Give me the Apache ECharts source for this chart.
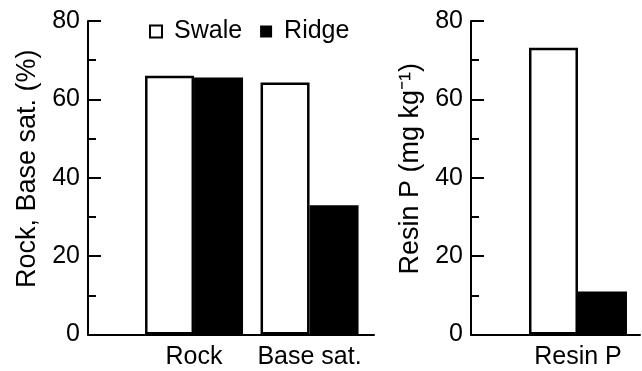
<!DOCTYPE html>
<html><head><meta charset="utf-8">
<script src="https://cdn.jsdelivr.net/npm/echarts@6/dist/echarts.min.js"></script>
<style>html,body{margin:0;padding:0;background:#fff}#c{width:642px;height:371px}</style>
</head><body><div id="c"></div>
<script>
// ---- data ----
const leftCategories = ['Rock', 'Base sat.'];
const rightCategories = ['Resin P'];
const seriesNames = ['Swale', 'Ridge'];
const leftSwale = [66.0, 64.3];
const leftRidge = [65.6, 33.0];
const rightSwale = [73.2];
const rightRidge = [11.0];
const yTicks = [0, 20, 40, 60, 80];
const leftYTitle = 'Rock, Base sat. (%)';
const rightYTitle = 'Resin P (mg kg\u207B\u00B9)';

// ---- helpers ----
const FONT = '"Liberation Sans", Arial, Helvetica, sans-serif';
const toPoints = vals => vals.map((v, i) => [i + 1, v]);
const positions = cats => cats.map((c, i) => i + 1);

function xAxisCfg(gridIndex, cats, min, max) {
  return {
    type: 'value', gridIndex, min, max,
    axisLine: { show: true, onZero: false, lineStyle: { color: '#000', width: 2 } },
    axisTick: { show: false },
    splitLine: { show: false },
    axisLabel: {
      show: true, customValues: positions(cats), margin: 10,
      formatter: v => cats[Math.round(v) - 1] || '',
      color: '#000', fontSize: 25, fontFamily: FONT
    }
  };
}
function yAxisCfg(gridIndex, name) {
  return {
    type: 'value', gridIndex, min: yTicks[0], max: yTicks[yTicks.length - 1], interval: yTicks[1] - yTicks[0],
    name, nameLocation: 'middle', nameGap: 47,
    nameTextStyle: { color: '#000', fontSize: 27, fontFamily: FONT, padding: [0, 0, 0, 18] },
    axisLine: { show: true, lineStyle: { color: '#000', width: 2 } },
    axisTick: { show: true, inside: true, length: 13, lineStyle: { color: '#000', width: 2 } },
    minorTick: { show: true, splitNumber: 2, length: 8, lineStyle: { color: '#000', width: 2 } },
    splitLine: { show: false },
    axisLabel: { color: '#000', fontSize: 25, fontFamily: FONT, margin: 8 }
  };
}
const swaleStyle = { color: '#fff', borderColor: '#000', borderWidth: 2.5 };
const ridgeStyle = { color: '#000', borderColor: '#000', borderWidth: 0 };

const option = {
  animation: false,
  backgroundColor: '#fff',
  textStyle: { fontFamily: FONT },
  legend: {
    data: seriesNames, left: 144, top: 14, icon: 'rect',
    itemWidth: 12, itemHeight: 12, itemGap: 18,
    textStyle: { color: '#000', fontSize: 25, fontFamily: FONT, padding: [0, 0, 0, 7] }
  },
  grid: [
    { left: 88, right: 268, top: 21, bottom: 36.5 },
    { left: 471, right: 2, top: 21, bottom: 36.5 }
  ],
  xAxis: [
    xAxisCfg(0, leftCategories, 0.082, 2.558),
    xAxisCfg(1, rightCategories, 0.0736, 1.537)
  ],
  yAxis: [
    yAxisCfg(0, leftYTitle),
    yAxisCfg(1, rightYTitle)
  ],
  series: [
    { name: seriesNames[0], type: 'bar', xAxisIndex: 0, yAxisIndex: 0, data: toPoints(leftSwale), barWidth: 49, barGap: '0%', itemStyle: swaleStyle },
    { name: seriesNames[1], type: 'bar', xAxisIndex: 0, yAxisIndex: 0, data: toPoints(leftRidge), barWidth: 49, barGap: '0%', itemStyle: ridgeStyle },
    { name: seriesNames[0], type: 'bar', xAxisIndex: 1, yAxisIndex: 1, data: toPoints(rightSwale), barWidth: 49, barGap: '0%', itemStyle: swaleStyle },
    { name: seriesNames[1], type: 'bar', xAxisIndex: 1, yAxisIndex: 1, data: toPoints(rightRidge), barWidth: 49, barGap: '0%', itemStyle: ridgeStyle }
  ]
};
const chart = echarts.init(document.getElementById('c'), null, { renderer: 'canvas' });
chart.setOption(option);
</script>
</body></html>
